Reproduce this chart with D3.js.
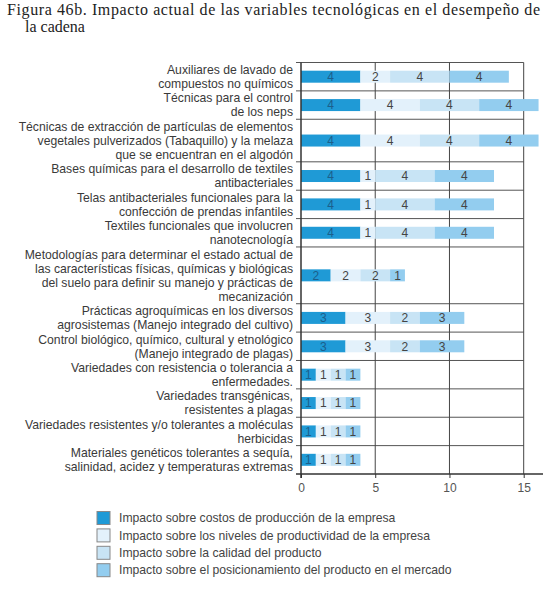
<!DOCTYPE html>
<html>
<head>
<meta charset="utf-8">
<script src="https://cdn.jsdelivr.net/npm/d3@7"></script>
<style>
  body { margin: 0; background: #fff; }
  svg { display: block; }
</style>
</head>
<body>
<svg id="chart" width="550" height="590"></svg>
<script>
// category labels, one array entry per printed line
const categories = [
  ["Auxiliares de lavado de", "compuestos no químicos"],
  ["Técnicas para el control", "de los neps"],
  ["Técnicas de extracción de partículas de elementos", "vegetales pulverizados (Tabaquillo) y la melaza", "que se encuentran en el algodón"],
  ["Bases químicas para el desarrollo de textiles", "antibacteriales"],
  ["Telas antibacteriales funcionales para la", "confección de prendas infantiles"],
  ["Textiles funcionales que involucren", "nanotecnología"],
  ["Metodologías para determinar el estado actual de", "las características físicas, químicas y biológicas", "del suelo para definir su manejo y prácticas de", "mecanización"],
  ["Prácticas agroquímicas en los diversos", "agrosistemas (Manejo integrado del cultivo)"],
  ["Control biológico, químico, cultural y etnológico", "(Manejo integrado de plagas)"],
  ["Variedades con resistencia o tolerancia a", "enfermedades."],
  ["Variedades transgénicas,", "resistentes a plagas"],
  ["Variedades resistentes y/o tolerantes a moléculas", "herbicidas"],
  ["Materiales genéticos tolerantes a sequía,", "salinidad, acidez y temperaturas extremas"]
];

const costos          = [4, 4, 4, 4, 4, 4, 2, 3, 3, 1, 1, 1, 1];
const productividad   = [2, 4, 4, 1, 1, 1, 2, 3, 3, 1, 1, 1, 1];
const calidad         = [4, 4, 4, 4, 4, 4, 2, 2, 2, 1, 1, 1, 1];
const posicionamiento = [4, 4, 4, 4, 4, 4, 1, 3, 3, 1, 1, 1, 1];

const seriesNames = [
  "Impacto sobre costos de producción de la empresa",
  "Impacto sobre los niveles de productividad de la empresa",
  "Impacto sobre la calidad del producto",
  "Impacto sobre el posicionamiento del producto en el mercado"
];
const xTicks = [0, 5, 10, 15];

const titleLines = [
  "Figura 46b. Impacto actual de las variables tecnológicas en el desempeño de",
  "la  cadena"
];

const colors = ["#1f9ad6", "#e3f1fb", "#c8e4f5", "#93cdef"];
const valueColors = ["#1b5f8c", "#444", "#444", "#444"];

const svg = d3.select("#chart");

// title (the original face is wider than anything installed, so stretch line 1)
svg.append("g").selectAll("text")
  .data(titleLines)
  .enter().append("text")
  .attr("x", (d, i) => i == 0 ? 7 : 25)
  .attr("y", (d, i) => 15 + i * 17)
  .attr("textLength", (d, i) => i == 0 ? 533 : null)
  .attr("lengthAdjust", "spacing")
  .style("font-family", "'Liberation Serif', serif")
  .style("font-size", "16px")
  .style("fill", "#222")
  .text(d => d);

// rows are as tall as their label, so y runs over "line units"
let rowStart = [];
let total = 0;
categories.forEach(c => { rowStart.push(total); total += c.length; });

let plotTop = 62.5, plotBottom = 474;
let yScale = d3.scaleLinear().domain([0, total]).range([plotTop, plotBottom]);
let xScale = d3.scaleLinear().domain([0, 16.3]).range([301, 543]);

// stack the four series
let table = categories.map((c, i) => ({
  idx: i, costos: costos[i], productividad: productividad[i],
  calidad: calidad[i], posicionamiento: posicionamiento[i]
}));
let keys = ["costos", "productividad", "calidad", "posicionamiento"];
let stacked = d3.stack().keys(keys)(table);

let g = svg.append("g");

// top border and row separators
let bounds = rowStart.concat([total]);
g.selectAll("line.sep")
  .data(bounds.slice(0, -1))
  .enter().append("line")
  .attr("x1", xScale(0) - 5)
  .attr("x2", xScale(15))
  .attr("y1", d => yScale(d))
  .attr("y2", d => yScale(d))
  .style("stroke", "#555")
  .style("stroke-width", 1);

// vertical grid lines
g.selectAll("line.grid")
  .data(xTicks.slice(1))
  .enter().append("line")
  .attr("x1", d => xScale(d))
  .attr("x2", d => xScale(d))
  .attr("y1", plotTop)
  .attr("y2", plotBottom)
  .style("stroke", "#444")
  .style("stroke-width", 1);

// bars
let barH = 12;
let layers = g.selectAll("g.layer")
  .data(stacked)
  .enter().append("g")
  .style("fill", (d, i) => colors[i]);

layers.selectAll("rect")
  .data(d => d)
  .enter().append("rect")
  .attr("x", d => xScale(d[0]))
  .attr("width", d => xScale(d[1]) - xScale(d[0]))
  .attr("y", d => yScale(rowStart[d.data.idx] + categories[d.data.idx].length / 2) - barH / 2)
  .attr("height", barH);

// value labels
stacked.forEach((layer, li) => {
  g.append("g").selectAll("text")
    .data(layer)
    .enter().append("text")
    .attr("x", d => xScale((d[0] + d[1]) / 2))
    .attr("y", d => yScale(rowStart[d.data.idx] + categories[d.data.idx].length / 2))
    .attr("dy", "0.36em")
    .attr("text-anchor", "middle")
    .style("font-family", "'Liberation Sans', Arial, sans-serif")
    .style("font-size", "12px")
    .style("fill", valueColors[li])
    .text(d => d[1] - d[0]);
});

// y axis line
g.append("line")
  .attr("x1", xScale(0)).attr("x2", xScale(0))
  .attr("y1", plotTop).attr("y2", plotBottom + 4)
  .style("stroke", "#333").style("stroke-width", 1.5);

// x axis
let xAxis = d3.axisBottom(xScale).tickValues(xTicks).tickSize(4).tickPadding(5);
let ax = svg.append("g")
  .attr("transform", "translate(0," + plotBottom + ")")
  .call(xAxis);
ax.select(".domain").attr("d", "M" + (xScale(0) - 5) + ",0H" + xScale(16.3))
  .style("stroke", "#333").style("stroke-width", 1.5);
ax.selectAll(".tick line").style("stroke", "#333");
ax.selectAll("text")
  .style("font-family", "'Liberation Sans', Arial, sans-serif")
  .style("font-size", "12px")
  .style("fill", "#555");

// category labels
let labels = svg.append("g").selectAll("text")
  .data(categories)
  .enter().append("text")
  .attr("text-anchor", "end")
  .style("font-family", "'Liberation Sans', Arial, sans-serif")
  .style("font-size", "12.2px")
  .style("fill", "#3a3a3a");

labels.each(function(d, i) {
  let mid = yScale(rowStart[i] + d.length / 2);
  let lh = 14;
  d3.select(this).selectAll("tspan")
    .data(d)
    .enter().append("tspan")
    .attr("x", 293)
    .attr("y", (t, j) => mid + (j - (d.length - 1) / 2) * lh)
    .attr("dy", "0.35em")
    .text(t => t);
});

// legend
let legend = svg.append("g").selectAll("g")
  .data(seriesNames)
  .enter().append("g")
  .attr("transform", (d, i) => "translate(97," + (518 + i * 17.4) + ")");

legend.append("rect")
  .attr("x", 0).attr("y", -6.5)
  .attr("width", 13).attr("height", 13)
  .style("fill", (d, i) => colors[i])
  .style("stroke", "#888")
  .style("stroke-width", 1);

legend.append("text")
  .attr("x", 22)
  .attr("dy", "0.35em")
  .style("font-family", "'Liberation Sans', Arial, sans-serif")
  .style("font-size", "12.2px")
  .style("fill", "#444")
  .text(d => d);
</script>
</body>
</html>
